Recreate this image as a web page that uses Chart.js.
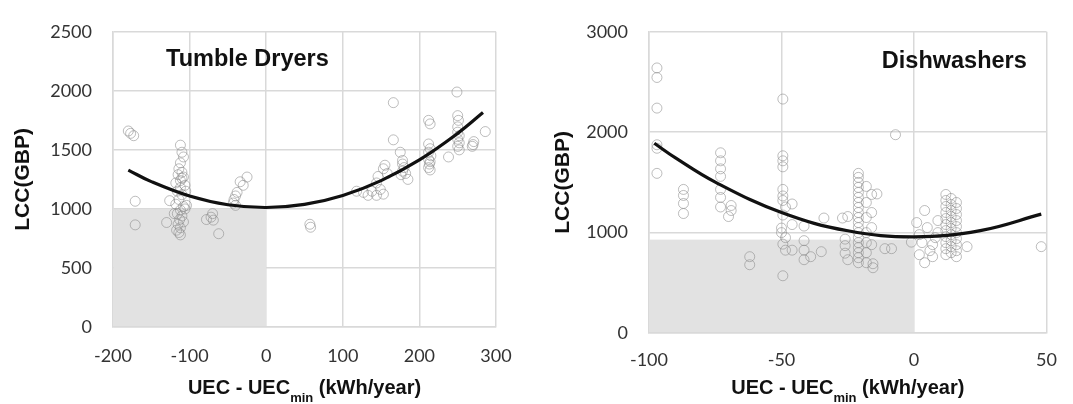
<!DOCTYPE html>
<html>
<head>
<meta charset="utf-8">
<title>LCC vs UEC</title>
<script src="https://cdn.jsdelivr.net/npm/chart.js@4.4.1/dist/chart.umd.min.js"></script>
<style>
    html, body { margin: 0; padding: 0; background: #fff; }
    #wrap { position: relative; width: 1073px; height: 404px; }
    canvas { position: absolute; top: 0; }
    #dryers { left: 0; }
    #dishes { left: 540px; }
</style>
</head>
<body>
<div id="wrap">
    <canvas id="dryers" width="540" height="404"></canvas>
    <canvas id="dishes" width="533" height="404"></canvas>
</div>
<script>
// ============================================
// Data
// ============================================

// Tumble dryers: scatter of models
const dryerX = [
    -180, -177, -173, -171, -171, -130, -126,
    -112, -110, -108, -112, -114, -110, -115, -108, -112, -118, -106, -112, -116, -110,
    -114, -118, -108, -112, -116, -110, -113, -108, -115, -112, -117, -114, -112, -104,
    -106, -120, -110, -105,
    -78, -70, -69, -72, -62,
    -43, -42, -40, -38, -34, -30, -25, -40,
    57, 58,
    118, 127, 133, 138, 144, 146, 149, 153, 153, 155, 144, 158,
    166, 166,
    175, 178, 178, 180, 178, 176, 185, 182,
    212, 214,
    212, 214, 212, 215, 212, 214, 213, 212, 214,
    238,
    249, 250, 251, 250, 250, 252, 250, 252, 250, 252,
    270, 271, 269,
    286
];
const dryerY = [
    1660, 1640, 1620, 1065, 865, 885, 1070,
    1540, 1480, 1440, 1390, 1340, 1310, 1290, 1270, 1240, 1220, 1200, 1180, 1150, 1120,
    1080, 1040, 1020, 990, 960, 940, 910, 890, 870, 840, 820, 800, 780, 1030,
    1000, 960, 1260, 1150,
    910, 960, 905, 930, 790,
    1050, 1080, 1110, 1140, 1230, 1200, 1270, 1030,
    870, 845,
    1150, 1140, 1115, 1150, 1220, 1275, 1165, 1125, 1340, 1370, 1115, 1300,
    1900, 1585,
    1480, 1410, 1380, 1350, 1320, 1290, 1250, 1300,
    1750, 1720,
    1550, 1510, 1480, 1450, 1420, 1400, 1380, 1350, 1330,
    1440,
    1990, 1790, 1750, 1695, 1650, 1620, 1590, 1560, 1530, 1500,
    1545, 1570, 1530,
    1655
];
// Tumble dryers: fitted trend curve
const dryerFitX = [-180, -150, -100, -50, 0, 50, 100, 150, 200, 250, 283];
const dryerFitY = [1329, 1231, 1109, 1035, 1012, 1038, 1114, 1240, 1415, 1640, 1816];
// Tumble dryers: shaded quadrant and ticks
const dryerShadeX = [-200, 0];
const dryerShadeY = [0, 1000];
const dryerXTicks = [-200, -100, 0, 100, 200, 300];
const dryerYTicks = [0, 500, 1000, 1500, 2000, 2500];

// Dishwashers: scatter of models
const dishX = [
    -97, -97, -97, -97, -97, -97,
    -87, -87, -87, -87,
    -73, -73, -73, -73, -73, -73, -73,
    -69, -69, -70,
    -62, -62,
    -49.5, -49.5, -49.5, -49.5, -49.5, -49.5, -49.5, -48.5, -49.5, -50, -50, -48.5, -49.5, -48.5, -49.5,
    -46, -46, -46,
    -41.5, -41.5, -41.5, -41.5,
    -39, -35, -34, -27,
    -26, -26, -26, -25, -25,
    -21, -21, -21, -21, -21, -21, -21, -21, -21, -21, -21, -21, -21, -21, -21, -21, -21, -21, -21,
    -18, -18, -18, -18, -18, -18, -18,
    -16, -16, -16, -16, -15.5, -15.5,
    -14, -8.5, -11, -7,
    -1, 4,
    1, 2, 3, 5, 6, 7, 8, 9, 2, 4, 7, 9,
    12, 12, 12, 12, 12, 12, 12, 12, 12, 12, 12,
    14, 14, 14, 14, 14, 14, 14, 14, 14, 14,
    16, 16, 16, 16, 16, 16, 16, 16, 16, 16,
    20, 48
];
const dishY = [
    2640, 2545, 2240, 1875, 1840, 1590,
    1430, 1370, 1290, 1190,
    1795, 1715, 1635, 1560, 1430, 1350, 1255,
    1270, 1220, 1160,
    760, 680,
    2330, 1765, 1715, 1655, 1430, 1365, 1320, 1255, 1175, 1045, 1000, 950, 885, 825, 570,
    1285, 1080, 825,
    1065, 920, 825, 730,
    760, 810, 1145, 1145,
    935, 870, 795, 730, 1160,
    1590, 1550, 1500, 1450, 1400, 1350, 1300, 1250, 1200, 1150, 1100, 1050, 1000, 950, 900, 850, 800, 750, 700,
    1460, 1300, 1150, 1000, 900, 800, 700,
    1380, 1200, 1050, 880, 690, 650,
    1385, 840, 840, 1975,
    905, 1220,
    1100, 980, 900, 1050, 820, 760, 950, 1120, 780, 700, 880, 1000,
    1380, 1320, 1260, 1200, 1140, 1080, 1020, 960, 900, 840, 780,
    1340, 1280, 1220, 1160, 1100, 1040, 980, 920, 860, 800,
    1300, 1240, 1180, 1120, 1060, 1000, 940, 880, 820, 760,
    860, 860
];
// Dishwashers: fitted trend curve
const dishFitX = [-98, -90, -75, -50, -25, 0, 25, 48];
const dishFitY = [1890, 1744, 1503, 1200, 1018, 958, 1020, 1184];
// Dishwashers: shaded quadrant and ticks
const dishShadeX = [-100, 0];
const dishShadeY = [0, 930];
const dishXTicks = [-100, -50, 0, 50];
const dishYTicks = [0, 1000, 2000, 3000];

// ============================================
// Shared style
// ============================================
const GRID = "#d9d9d9";
const SHADE = "#e2e2e2";
const MARKER = "rgba(135,135,135,0.55)";
const TEXT = "#333333";
const TICK_FONT = { family: "Lato, 'Open Sans', sans-serif", size: 18 };
const BOLD_FAMILY = "'Liberation Sans', Arial, sans-serif";

const zip = (xs, ys) => xs.map((x, i) => ({ x: x, y: ys[i] }));

// grey box behind the points, drawn over the grid
const shadePlugin = {
    id: "shade",
    beforeDatasetsDraw(chart, args, opts) {
        const { ctx } = chart;
        const sx = chart.scales.x, sy = chart.scales.y;
        const x0 = sx.getPixelForValue(opts.x[0]), x1 = sx.getPixelForValue(opts.x[1]);
        const y0 = sy.getPixelForValue(opts.y[0]), y1 = sy.getPixelForValue(opts.y[1]);
        ctx.save();
        ctx.fillStyle = SHADE;
        ctx.fillRect(x0 + 1, y1, x1 - x0 - 1, y0 - y1 - 1);
        ctx.restore();
    }
};

// panel title + x-axis title with the "min" subscript
const textPlugin = {
    id: "panelText",
    afterDraw(chart, args, opts) {
        const { ctx, chartArea: a } = chart;
        ctx.save();
        ctx.fillStyle = "#111";
        ctx.textBaseline = "middle";
        ctx.textAlign = "center";
        ctx.font = "bold 23.5px " + BOLD_FAMILY;
        ctx.fillText(opts.title, a.left + a.width * opts.titleFx, a.top + opts.titleDy);

        const main = "bold 20px " + BOLD_FAMILY;
        const sub = "bold 13px " + BOLD_FAMILY;
        const p1 = "UEC - UEC", p2 = "min", p3 = " (kWh/year)";
        ctx.font = main; const w1 = ctx.measureText(p1).width, w3 = ctx.measureText(p3).width;
        ctx.font = sub; const w2 = ctx.measureText(p2).width;
        let x = (a.left + a.right) / 2 - (w1 + w2 + w3) / 2;
        ctx.textAlign = "left";
        ctx.textBaseline = "alphabetic";
        ctx.font = main; ctx.fillText(p1, x, 394); x += w1;
        ctx.font = sub; ctx.fillText(p2, x, 402); x += w2;
        ctx.font = main; ctx.fillText(p3, x, 394);
        ctx.restore();
    }
};

function buildPanel(id, p) {
    new Chart(document.getElementById(id), {
        type: "scatter",
        data: {
            datasets: [
                {
                    data: zip(p.fitX, p.fitY),
                    showLine: true,
                    borderColor: "#111",
                    borderWidth: 3.2,
                    pointRadius: 0,
                    tension: 0.4,
                    order: 0,
                },
                {
                    data: zip(p.x, p.y),
                    pointRadius: 5,
                    borderWidth: 1,
                    borderColor: MARKER,
                    backgroundColor: "rgba(0,0,0,0)",
                    order: 1,
                },
            ],
        },
        options: {
            responsive: false,
            animation: false,
            events: [],
            layout: { padding: { top: 19, right: p.padRight, left: 0, bottom: 0 } },
            plugins: {
                legend: { display: false },
                tooltip: { enabled: false },
                shade: { x: p.shadeX, y: p.shadeY },
                panelText: { title: p.title, titleFx: p.titleFx, titleDy: p.titleDy },
            },
            scales: {
                x: {
                    type: "linear",
                    min: p.xTicks[0],
                    max: p.xTicks[p.xTicks.length - 1],
                    afterBuildTicks: s => { s.ticks = p.xTicks.map(v => ({ value: v })); },
                    afterFit: s => { s.height = p.xAxisH; },
                    grid: { color: GRID, lineWidth: 1.5, drawTicks: false },
                    border: { color: GRID, width: 1.5 },
                    ticks: {
                        font: TICK_FONT, color: TEXT, padding: p.xPad, maxRotation: 0,
                        callback: v => String(v),
                    },
                },
                y: {
                    type: "linear",
                    min: p.yTicks[0],
                    max: p.yTicks[p.yTicks.length - 1],
                    afterBuildTicks: s => { s.ticks = p.yTicks.map(v => ({ value: v })); },
                    afterFit: s => { s.width = p.yAxisW; },
                    grid: { color: GRID, lineWidth: 1.5, drawTicks: false },
                    border: { color: GRID, width: 1.5 },
                    ticks: { font: TICK_FONT, color: TEXT, padding: 21, callback: v => String(v) },
                    title: {
                        display: true,
                        text: "LCC(GBP)",
                        color: "#111",
                        font: { family: BOLD_FAMILY, size: 21, weight: "bold" },
                        padding: { top: 11, bottom: 0 },
                    },
                },
            },
        },
        plugins: [shadePlugin, textPlugin],
    });
}

buildPanel("dryers", {
    x: dryerX, y: dryerY, fitX: dryerFitX, fitY: dryerFitY,
    shadeX: dryerShadeX, shadeY: dryerShadeY,
    xTicks: dryerXTicks, yTicks: dryerYTicks,
    title: "Tumble Dryers", titleFx: 0.351, titleDy: 28,
    padRight: 44, yAxisW: 113, xAxisH: 77, xPad: 18,
});

buildPanel("dishes", {
    x: dishX, y: dishY, fitX: dishFitX, fitY: dishFitY,
    shadeX: dishShadeX, shadeY: dishShadeY,
    xTicks: dishXTicks, yTicks: dishYTicks,
    title: "Dishwashers", titleFx: 0.768, titleDy: 30,
    padRight: 15, yAxisW: 109, xAxisH: 71, xPad: 16,
});
</script>
</body>
</html>
